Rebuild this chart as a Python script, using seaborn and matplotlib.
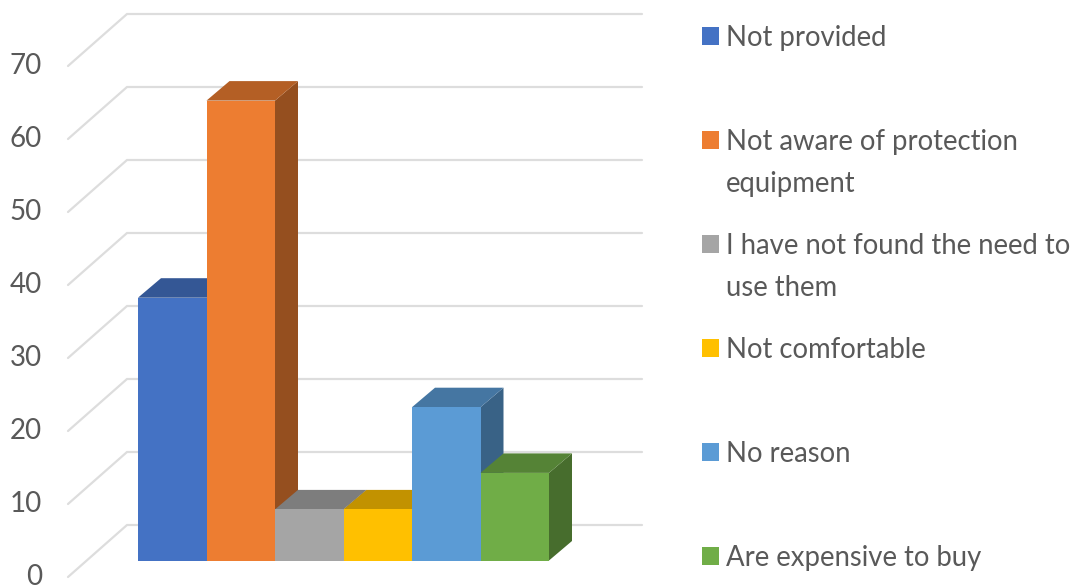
import numpy as np
import pandas as pd
import matplotlib
matplotlib.use("Agg")
import matplotlib.pyplot as plt
from matplotlib.patches import Polygon, Rectangle
import seaborn as sns

reasons = ["Not provided", "Not aware of protection\nequipment",
           "I have not found the need to\nuse them", "Not comfortable",
           "No reason", "Are expensive to buy"]
values = [36, 63, 7, 7, 21, 12]
colors = ["#4472C4", "#ED7D31", "#A5A5A5", "#FFC000", "#5B9BD5", "#70AD47"]
yticks = [0, 10, 20, 30, 40, 50, 60, 70]
legend_square_tops = [27, 131, 235, 339, 443, 547]

W, H = 1075, 586
PX_PER_CAT, PX_PER_UNIT = 68.5, 7.3
X0_PX, Y0_PX = 138, 560.5
def xd(px): return (px - X0_PX) / PX_PER_CAT - 0.5
def yd(py): return (Y0_PX - py) / PX_PER_UNIT

sns.set_theme(style="white")
plt.rcParams["font.family"] = ["Lato", "Liberation Sans", "DejaVu Sans"]
TEXT = "#595959"

fig = plt.figure(figsize=(W / 100, H / 100), dpi=100)
ax = fig.add_axes([0, 0, 1, 1])
df = pd.DataFrame({"reason": reasons, "value": values})
sns.barplot(data=df, x="reason", y="value", hue="reason", palette=colors, hue_order=reasons,
            order=reasons, width=1, saturation=1, dodge=False, legend=False, ax=ax)
ax.set_xlim(xd(0), xd(W))
ax.set_ylim(yd(H), yd(0))
ax.axis("off")

# walls
back_x, front_x, right_x = xd(127), xd(68), xd(642)
back_off, front_off = yd(525), yd(577)
label_off = yd(585)
for v in yticks:
    ax.plot([front_x, back_x, right_x], [v + front_off, v + back_off, v + back_off],
            color="#DDDDDD", lw=1.6, zorder=1, solid_joinstyle="miter", clip_on=False)
    ax.text(xd(42), v + label_off, str(v), ha="right", va="baseline", fontsize=20, color=TEXT)

# 3D depth of bars
dx, dy = 23 / PX_PER_CAT, 19.5 / PX_PER_UNIT
def shade(c, f):
    return tuple(f * a for a in matplotlib.colors.to_rgb(c))
for i, (patch, val, c) in enumerate(zip(ax.patches, values, colors)):
    z = 3 + i * 3
    l, r = patch.get_x(), patch.get_x() + patch.get_width()
    ax.add_patch(Polygon([(r, 0), (r + dx, dy), (r + dx, val + dy), (r, val)],
                         fc=shade(c, 0.63), ec="none", zorder=z))
    ax.add_patch(Polygon([(l, val), (l + dx, val + dy), (r + dx, val + dy), (r, val)],
                         fc=shade(c, 0.76), ec="none", zorder=z + 1))
    patch.set_zorder(z + 2)
    patch.set_edgecolor("none")

# legend
for label, c, top in zip(reasons, colors, legend_square_tops):
    fig.add_artist(Rectangle((702 / W, 1 - (top + 18) / H), 17 / W, 18 / H,
                             transform=fig.transFigure, fc=c, ec="none"))
    for k, line in enumerate(label.split("\n")):
        fig.text(726 / W, 1 - (top + 19 + 42 * k) / H, line, ha="left", va="baseline",
                 fontsize=19.8, color=TEXT)

fig.savefig("out.png", dpi=100)
